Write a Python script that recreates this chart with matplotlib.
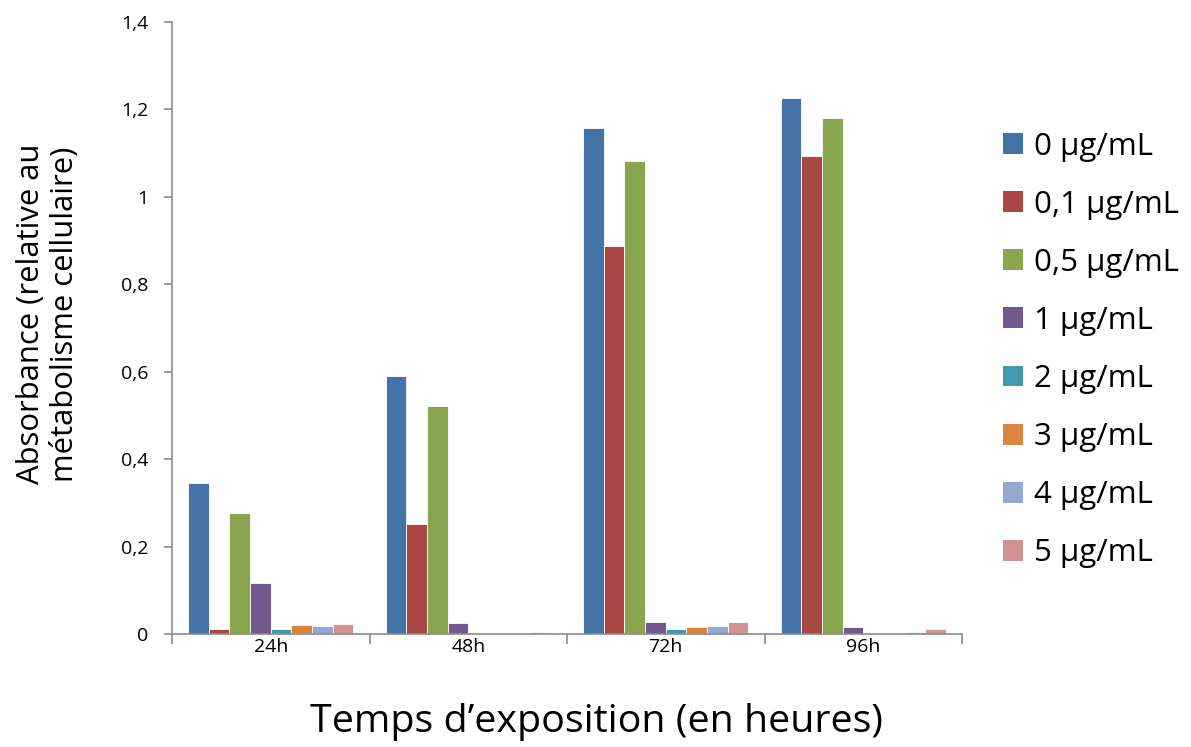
import matplotlib
matplotlib.use("Agg")
import matplotlib.pyplot as plt
import numpy as np
from matplotlib.patches import Patch
from matplotlib.ticker import FixedLocator, FuncFormatter

plt.rcParams['font.family'] = ['Open Sans', 'DejaVu Sans']

groups = ["24h", "48h", "72h", "96h"]
doses = ["0 µg/mL", "0,1 µg/mL", "0,5 µg/mL", "1 µg/mL",
         "2 µg/mL", "3 µg/mL", "4 µg/mL", "5 µg/mL"]
colors = ["#4572A7", "#AA4643", "#89A54E", "#71588F",
          "#4198AF", "#DB843D", "#93A9CF", "#D19392"]

# absorbance per dose, one value per exposure time
abs_0 = [0.345, 0.590, 1.158, 1.226]
abs_01 = [0.011, 0.252, 0.887, 1.094]
abs_05 = [0.277, 0.521, 1.082, 1.181]
abs_1 = [0.117, 0.026, 0.027, 0.016]
abs_2 = [0.011, 0.0, 0.011, 0.0]
abs_3 = [0.021, 0.0, 0.016, 0.0]
abs_4 = [0.018, 0.0, 0.018, 0.004]
abs_5 = [0.024, 0.004, 0.027, 0.012]
series = [abs_0, abs_01, abs_05, abs_1, abs_2, abs_3, abs_4, abs_5]

yticks = [0, 0.2, 0.4, 0.6, 0.8, 1.0, 1.2, 1.4]

fig = plt.figure(figsize=(11.91, 7.47), dpi=100)
ax = fig.add_axes([172 / 1191, 1 - 634 / 747, (962 - 172) / 1191, (634 - 22) / 747])

n = len(series)
bw = 1.0 / (n + 1.55)
x = np.arange(len(groups))
for i, (vals, c) in enumerate(zip(series, colors)):
    offs = (i - (n - 1) / 2) * bw
    ax.bar(x + offs, vals, width=bw, color=c, edgecolor="white", linewidth=0.6, zorder=2)

ax.set_xlim(-0.5, len(groups) - 0.5)
ax.set_ylim(0, 1.4)

axis_col = "#8C8C8C"
for side in ["top", "right"]:
    ax.spines[side].set_visible(False)
for side in ["left", "bottom"]:
    ax.spines[side].set_color(axis_col)
    ax.spines[side].set_linewidth(1.2)

ax.yaxis.set_major_locator(FixedLocator(yticks))
ax.yaxis.set_major_formatter(FuncFormatter(lambda v, p: ("%g" % round(v, 1)).replace(".", ",")))
ax.tick_params(axis="y", direction="out", length=6, width=1.2, color=axis_col,
               labelsize=14, pad=11)

ax.set_xticks(x)
ax.set_xticklabels(groups)
ax.tick_params(axis="x", length=0, labelsize=14, pad=3)
ax.set_xticks(np.arange(-0.5, len(groups)), minor=True)
ax.tick_params(axis="x", which="minor", direction="out", length=7, width=1.2, color=axis_col)

fig.text(48 / 1191, 1 - 314 / 747, "Absorbance (relative au\nmétabolisme cellulaire)",
         fontsize=22.3, rotation=90, ha="center", va="center",
         multialignment="center", linespacing=1.15)
fig.text(597 / 1191, 1 - 722 / 747, "Temps d\u2019exposition (en heures)",
         fontsize=28.4, ha="center", va="center")

handles = [Patch(facecolor=c, edgecolor="none") for c in colors]
fig.legend(handles, doses, loc="upper left", bbox_to_anchor=(990 / 1191, 1 - 119 / 747),
           frameon=False, fontsize=22.5, handlelength=0.65, handleheight=0.65,
           handletextpad=0.35, labelspacing=0.9, borderaxespad=0)

fig.savefig("out.png", dpi=100)
